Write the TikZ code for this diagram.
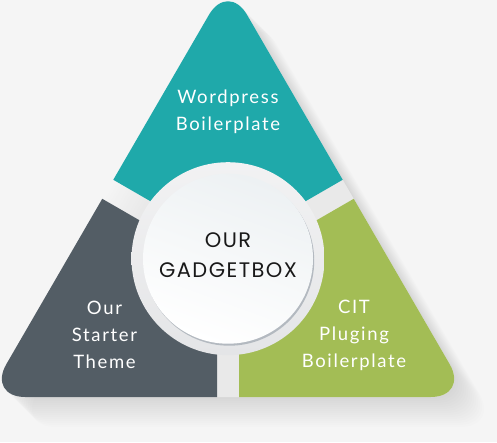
\documentclass[tikz,border=0pt]{standalone}
\usepackage{fontspec}
\setmainfont{Lato}
\newfontfamily\hubfont[LetterSpace=7]{Poppins}
\newfontfamily\labfont[LetterSpace=9]{Lato}
\usetikzlibrary{calc}
\definecolor{bgcol}{HTML}{F5F5F5}
\definecolor{tealcol}{HTML}{1FA9AA}
\definecolor{greycol}{HTML}{535D65}
\definecolor{greencol}{HTML}{A3BD55}
\definecolor{ringtop}{HTML}{F2F2F3}
\definecolor{ringbot}{HTML}{E4E5E7}
\definecolor{hubtint}{HTML}{EDF1F3}
\definecolor{hubshadow}{HTML}{B3B9C0}
\tikzset{
  piece/.style={rounded corners=38},
  lab/.style={text=white, align=center, inner sep=0pt, font=\labfont\fontsize{18.5}{27}\selectfont},
  hublab/.style={text=black!90, align=center, inner sep=0pt, font=\hubfont\fontsize{21}{30}\selectfont},
}
\begin{document}
\begin{tikzpicture}[x=1pt,y=1pt]
\useasboundingbox (0,0) rectangle (497,442);
\fill[bgcol] (0,0) rectangle (497,442);
\coordinate (A) at (-12.7,45);
\coordinate (B) at (468.7,45);
\coordinate (T) at (228,460);
\coordinate (C) at (228,183.3);
% long shadow
\foreach \k in {2,4,...,30} {
  \fill[black, opacity=0.007, piece] ($(A)+(\k,-\k)$) -- ($(B)+(\k,-\k)$) -- ($(T)+(\k,-\k)$) -- cycle;
}
% lighten the gaps
\fill[bgcol, opacity=0.6, piece] (A) -- (B) -- (T) -- cycle;
% teal piece
\begin{scope}
  \coordinate (V1) at ($(C)+(90:12.7)$);
  \clip (V1) -- ($(V1)+(150:500)$) -- ($(V1)+(90:500)$) -- ($(V1)+(30:500)$) -- cycle;
  \fill[tealcol, piece] (A) -- (B) -- (T) -- cycle;
\end{scope}
% grey piece
\begin{scope}
  \coordinate (V2) at ($(C)+(210:12.7)$);
  \clip (V2) -- ($(V2)+(150:500)$) -- ($(V2)+(210:500)$) -- ($(V2)+(270:500)$) -- cycle;
  \fill[greycol, piece] (A) -- (B) -- (T) -- cycle;
\end{scope}
% green piece
\begin{scope}
  \coordinate (V3) at ($(C)+(330:12.7)$);
  \clip (V3) -- ($(V3)+(270:500)$) -- ($(V3)+(330:500)$) -- ($(V3)+(30:500)$) -- cycle;
  \fill[greencol, piece] (A) -- (B) -- (T) -- cycle;
\end{scope}
% hub
\shade[top color=ringtop, bottom color=ringbot] (C) circle (96.5);
\fill[hubshadow] ($(C)+(1.2,-2)$) circle (85);
\shade[top color=hubtint, bottom color=white, shading angle=-20] (C) circle (85);
% labels
\node[lab] (top) at (228,330) {Wordpress\\Boilerplate};
\node[lab] (left) at (104.5,107) {Our\\Starter\\Theme};
\node[lab] (right) at (354,107) {CIT\\Pluging\\Boilerplate};
\node[hublab] (hub) at (228,187) {OUR\\GADGETBOX};
\end{tikzpicture}
\end{document}
